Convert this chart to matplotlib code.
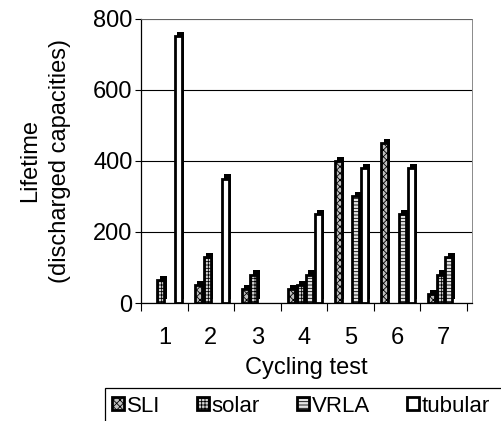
import numpy as np
import matplotlib.pyplot as plt
from matplotlib.patches import Rectangle

plt.rcParams['font.family'] = ['Liberation Sans', 'DejaVu Sans']
plt.rcParams['hatch.linewidth'] = 0.6

# data (0 = no bar)
tests = [1, 2, 3, 4, 5, 6, 7]
series = ['SLI', 'solar', 'VRLA', 'tubular']
sli = [0, 50, 40, 40, 400, 450, 25]
solar = [65, 130, 80, 50, 0, 0, 80]
vrla = [0, 0, 0, 80, 300, 250, 130]
tubular = [750, 350, 0, 250, 380, 380, 0]
values = [sli, solar, vrla, tubular]
hatches = ['xxxxx', '+++++', '-----', '']
faces = ['#c0c0c0', '#d4d4d4', '#e4e4e4', 'white']

fig = plt.figure(figsize=(5.02, 4.21), dpi=100)
ax = fig.add_axes([0.281, 0.280, 0.660, 0.676])

offsets = [-0.265, -0.075, 0.115, 0.305]
w = 0.15
dx, dy = 0.05, 12
x = np.array(tests, dtype=float)

handles = []
for k in range(4):
    h = np.array(values[k], dtype=float)
    m = h > 0
    # depth of the 3d bar
    ax.bar(x[m] + offsets[k] + dx, h[m], width=w, bottom=dy,
           color='black', zorder=2)
    b = ax.bar(x[m] + offsets[k], h[m], width=w, facecolor=faces[k],
               hatch=hatches[k], edgecolor='black', linewidth=2.0,
               zorder=3, label=series[k])
    handles.append(b)

ax.set_xlim(0.5, 7.62)
ax.set_ylim(0, 800)
ax.set_yticks([0, 200, 400, 600, 800])
ax.set_xticks(tests)
ax.set_xticks(np.arange(0.5, 8, 1), minor=True)
ax.tick_params(axis='x', which='major', length=0, labelsize=17, pad=17)
ax.tick_params(axis='x', which='minor', length=6, width=0.8)
ax.tick_params(axis='y', length=4, width=0.8, labelsize=17, pad=2)
ax.yaxis.grid(True, color='black', linewidth=0.8)
ax.set_axisbelow(True)
for s in ['top', 'right']:
    ax.spines[s].set_color('#777777')
    ax.spines[s].set_linewidth(0.6)
ax.spines['left'].set_linewidth(0.9)
ax.spines['bottom'].set_linewidth(0.9)

ax.set_xlabel('Cycling test', fontsize=17, labelpad=6)
ax.set_ylabel('Lifetime\n(discharged capacities)', fontsize=17,
              labelpad=16, linespacing=1.45)

# legend box, cut by the figure edge
fig.patches.append(Rectangle((105 / 502, -0.05), 1.0, 33 / 421 + 0.05,
                             transform=fig.transFigure, fill=False,
                             edgecolor='black', linewidth=0.9))
fig.legend(handles=handles, loc='center left', bbox_to_anchor=(112 / 502, 15 / 421),
           ncol=4, frameon=False, fontsize=16, handlelength=0.55,
           handleheight=0.55, handletextpad=0.12, columnspacing=1.65,
           borderpad=0, borderaxespad=0)

fig.savefig('out.png', dpi=100)
